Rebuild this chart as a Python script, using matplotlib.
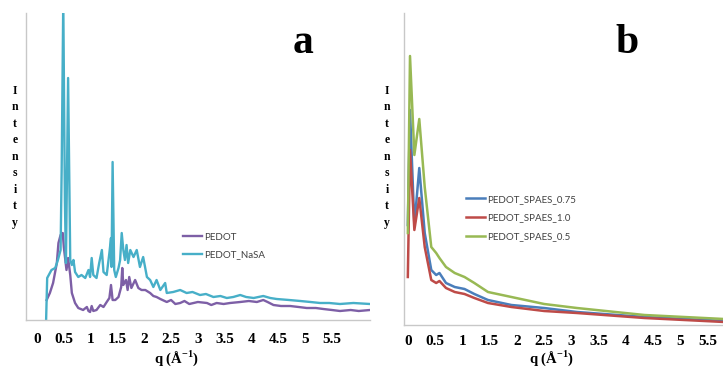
import matplotlib
matplotlib.use('Agg')
import matplotlib.pyplot as plt

plt.rcParams['mathtext.fontset'] = 'custom'
plt.rcParams['mathtext.rm'] = 'Liberation Serif:bold'
plt.rcParams['mathtext.bf'] = 'Liberation Serif:bold'

# panel a: PEDOT / PEDOT_NaSA (q in 1/A, intensity in a.u.)
q_pedot = [0.18, 0.24, 0.30, 0.37, 0.40, 0.44, 0.48, 0.50, 0.55, 0.58, 0.62, 0.65, 0.71, 0.77,
           0.86, 0.93, 0.96, 0.99, 1.02, 1.05, 1.11, 1.18, 1.24, 1.30, 1.35, 1.38, 1.41, 1.46,
           1.52, 1.57, 1.59, 1.61, 1.66, 1.69, 1.72, 1.76, 1.83, 1.89, 1.95, 2.02, 2.11, 2.17,
           2.23, 2.30, 2.42, 2.50, 2.58, 2.67, 2.75, 2.84, 2.92, 3.00, 3.17, 3.25, 3.35, 3.48,
           3.60, 3.79, 3.95, 4.10, 4.22, 4.30, 4.41, 4.55, 4.72, 4.88, 5.03, 5.20, 5.34, 5.50,
           5.65, 5.85, 6.00, 6.21]
i_pedot = [20, 27, 37, 57, 77, 85, 87, 73, 50, 62, 45, 27, 17, 12,
           10, 13, 9, 8, 14, 9, 10, 15, 13, 18, 22, 35, 20, 20,
           23, 33, 52, 35, 40, 30, 43, 32, 40, 32, 30, 30, 27, 24,
           23, 21, 18, 20, 16, 17, 19, 16, 17, 18, 17, 15, 17, 16,
           17, 18, 19, 18, 20, 18, 15, 14, 14, 13, 12, 12, 11, 10,
           9, 10, 9, 10]

q_nasa = [0.17, 0.19, 0.27, 0.34, 0.39, 0.44, 0.46, 0.49, 0.52, 0.54, 0.58, 0.62, 0.65, 0.68,
          0.71, 0.77, 0.83, 0.90, 0.96, 0.99, 1.02, 1.05, 1.11, 1.16, 1.21, 1.24, 1.30, 1.35,
          1.38, 1.39, 1.41, 1.44, 1.47, 1.52, 1.55, 1.58, 1.61, 1.64, 1.67, 1.70, 1.74, 1.80,
          1.86, 1.92, 1.98, 2.05, 2.11, 2.17, 2.23, 2.30, 2.39, 2.42, 2.54, 2.67, 2.79, 2.90,
          3.04, 3.15, 3.29, 3.42, 3.54, 3.66, 3.79, 3.90, 4.04, 4.22, 4.35, 4.47, 4.70, 4.91,
          5.10, 5.28, 5.45, 5.65, 5.90, 6.21]
i_nasa = [0, 42, 50, 52, 60, 70, 150, 320, 120, 57, 242, 60, 55, 60,
          48, 43, 45, 42, 50, 43, 62, 45, 42, 57, 70, 48, 45, 67,
          82, 53, 158, 50, 43, 52, 60, 87, 70, 60, 75, 57, 70, 63,
          70, 53, 63, 43, 40, 33, 40, 30, 37, 27, 28, 30, 27, 28,
          25, 26, 23, 24, 22, 23, 25, 23, 22, 24, 22, 21, 20, 19,
          18, 17, 17, 16, 17, 16]

# panel b: PEDOT_SPAES series
q_b = [0.0, 0.04, 0.12, 0.21, 0.31, 0.43, 0.52, 0.58, 0.70, 0.86, 1.04, 1.22, 1.47, 1.90,
       2.50, 3.10, 4.34, 5.80]
i_075 = [100, 215, 100, 157, 92, 55, 50, 52, 42, 38, 36, 31, 25, 20, 17, 13, 8, 4]
i_10 = [48, 175, 95, 127, 78, 45, 42, 44, 37, 33, 31, 27, 22, 18, 14, 12, 7, 3]
i_05 = [92, 269, 170, 206, 138, 78, 72, 67, 58, 52, 48, 42, 33, 28, 21, 17, 10, 6]

ticks = [0, 0.5, 1, 1.5, 2, 2.5, 3, 3.5, 4, 4.5, 5, 5.5]
tick_labels = ['0', '0.5', '1', '1.5', '2', '2.5', '3', '3.5', '4', '4.5', '5', '5.5']

W, H = 723, 368
fig = plt.figure(figsize=(W / 100, H / 100), dpi=100)


def px_axes(left, top, right, bottom):
    return fig.add_axes([left / W, 1 - bottom / H, (right - left) / W, (bottom - top) / H])


def style(ax, pad):
    for s in ['top', 'right']:
        ax.spines[s].set_visible(False)
    for s in ['left', 'bottom']:
        ax.spines[s].set_color('#c8c8c8')
        ax.spines[s].set_linewidth(1.0)
    ax.set_yticks([])
    ax.set_xticks(ticks)
    ax.set_xticklabels(tick_labels, fontfamily='Liberation Serif', fontweight='bold', fontsize=11)
    ax.tick_params(axis='x', length=0, pad=pad)


leg_kw = dict(frameon=False, prop={'family': 'Lato', 'size': 7}, handlelength=2.0,
              handletextpad=0.2, borderpad=0, labelcolor='#404040', bbox_transform=fig.transFigure)

ax1 = px_axes(26, 13, 370, 320)
ax1.plot(q_pedot, i_pedot, color='#7d5fa6', lw=1.7, label='PEDOT')
ax1.plot(q_nasa, i_nasa, color='#47afc8', lw=1.7, label='PEDOT_NaSA')
ax1.set_xlim(-0.205, 6.21)
ax1.set_ylim(0, 307)
style(ax1, 9.5)
ax1.legend(loc='upper left', bbox_to_anchor=(178 / W, 1 - 228 / H), labelspacing=0.9, **leg_kw)

ax2 = px_axes(404, 13, 723, 325)
ax2.plot(q_b, i_075, color='#4a7ebb', lw=1.8, label='PEDOT_SPAES_0.75')
ax2.plot(q_b, i_10, color='#be4b48', lw=1.8, label='PEDOT_SPAES_1.0')
ax2.plot(q_b, i_05, color='#98b954', lw=1.8, label='PEDOT_SPAES_0.5')
ax2.set_xlim(-0.07, 5.78)
ax2.set_ylim(0, 312)
style(ax2, 7.5)
ax2.legend(loc='upper left', bbox_to_anchor=(461 / W, 1 - 190 / H), labelspacing=1.0, **leg_kw)

ylab = '\n'.join('Intensity')
for x in [15, 387]:
    fig.text(x / W, 1 - 157 / H, ylab, ha='center', va='center', fontfamily='Liberation Serif',
             fontweight='bold', fontsize=8.5, linespacing=1.5)

for x in [177, 552]:
    fig.text(x / W, 1 - 363 / H, r'q (Å$^{-1}$)', ha='center', va='baseline',
             fontfamily='Liberation Serif', fontweight='bold', fontsize=10.5)

fig.text(303 / W, 1 - 53 / H, 'a', ha='center', va='baseline', fontfamily='Liberation Serif',
         fontweight='bold', fontsize=30)
fig.text(627 / W, 1 - 53 / H, 'b', ha='center', va='baseline', fontfamily='Liberation Serif',
         fontweight='bold', fontsize=30)

fig.savefig('out.png', dpi=100)
